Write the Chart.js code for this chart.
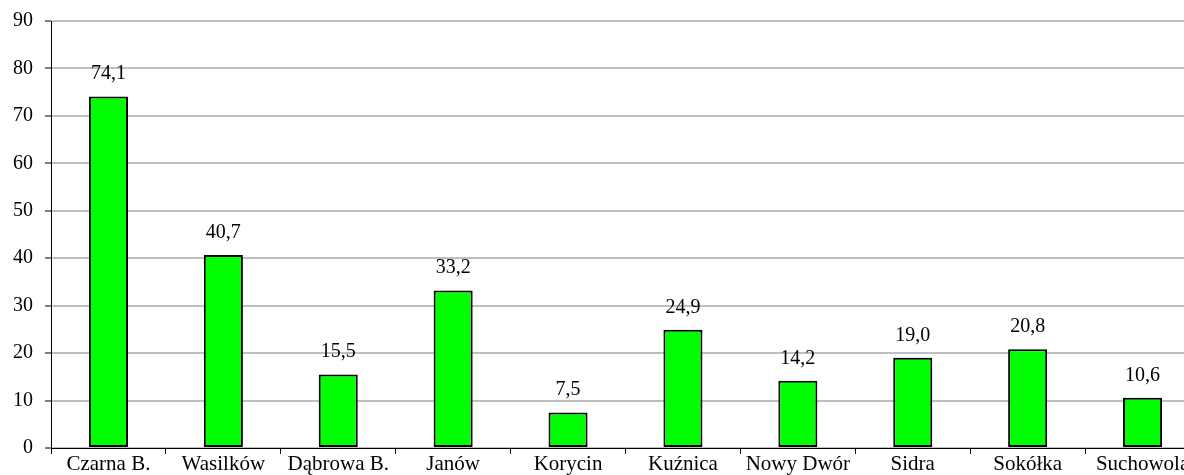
<!DOCTYPE html>
<html>
<head>
<meta charset="utf-8">
<script src="https://cdn.jsdelivr.net/npm/chart.js@4.4.1/dist/chart.umd.min.js"></script>
<style>
    html, body { margin: 0; padding: 0; background: #fff; overflow: hidden; }
    #wrap { width: 1184px; height: 475px; overflow: hidden; }
    #box { width: 1200px; height: 475px; }
</style>
</head>
<body>
<div id="wrap"><div id="box"><canvas id="chart"></canvas></div></div>
<script>
const categories = ["Czarna B.", "Wasilków", "Dąbrowa B.", "Janów", "Korycin", "Kuźnica", "Nowy Dwór", "Sidra", "Sokółka", "Suchowola"];
const values = [74.1, 40.7, 15.5, 33.2, 7.5, 24.9, 14.2, 19.0, 20.8, 10.6];
const yTicks = [0, 10, 20, 30, 40, 50, 60, 70, 80, 90];

const fontFamily = "'Liberation Serif', 'Times New Roman', serif";

// etykiety nad słupkami, z przecinkiem dziesiętnym
const valueLabels = {
    id: "valueLabels",
    afterDatasetsDraw(chart) {
        const ctx = chart.ctx;
        const meta = chart.getDatasetMeta(0);
        ctx.save();
        ctx.fillStyle = "#000";
        ctx.font = "20px " + fontFamily;
        ctx.textAlign = "center";
        ctx.textBaseline = "alphabetic";
        meta.data.forEach((bar, i) => {
            ctx.fillText(values[i].toFixed(1).replace(".", ","), bar.x, bar.y - 17);
        });
        ctx.restore();
    }
};

new Chart(document.getElementById("chart"), {
    type: "bar",
    data: {
        labels: categories,
        datasets: [{
            data: values,
            backgroundColor: "#00FF00",
            borderColor: "#000",
            borderWidth: 2,
            borderSkipped: false,
            barPercentage: 0.34,
            categoryPercentage: 1
        }]
    },
    options: {
        responsive: true,
        maintainAspectRatio: false,
        animation: false,
        layout: { padding: { top: 21, left: 0, right: 0, bottom: 0 } },
        plugins: {
            legend: { display: false },
            tooltip: { enabled: false }
        },
        scales: {
            x: {
                offset: true,
                grid: {
                    offset: true,
                    drawOnChartArea: false,
                    drawTicks: true,
                    tickLength: 6,
                    tickColor: "#000",
                    tickWidth: 1
                },
                border: { color: "#000", width: 1 },
                ticks: {
                    color: "#000",
                    font: { family: fontFamily, size: 21 },
                    padding: -2,
                    maxRotation: 0,
                    autoSkip: false
                },
                afterFit(scale) { scale.height = 27; }
            },
            y: {
                min: 0,
                max: 90,
                afterBuildTicks(scale) { scale.ticks = yTicks.map(v => ({ value: v })); },
                grid: {
                    color: "#BFBFBF",
                    lineWidth: 2,
                    tickColor: "#000",
                    tickWidth: 1,
                    tickLength: 6
                },
                border: { color: "#000", width: 1 },
                ticks: {
                    color: "#000",
                    font: { family: fontFamily, size: 20 },
                    padding: 12
                },
                afterFit(scale) {
                    scale.width = 51;
                    scale.paddingTop = 0;
                    scale.paddingBottom = 0;
                }
            }
        }
    },
    plugins: [valueLabels]
});
</script>
</body>
</html>
